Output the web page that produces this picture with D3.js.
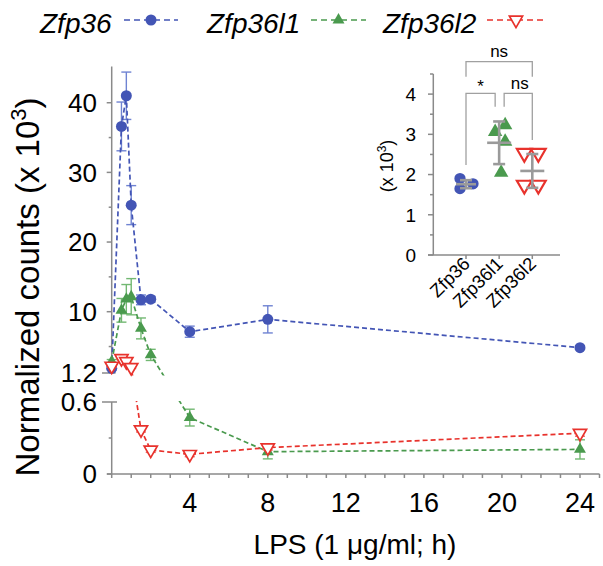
<!DOCTYPE html>
<html><head><meta charset="utf-8">
<script src="https://cdn.jsdelivr.net/npm/d3@7"></script>
<style>body{margin:0;background:#fff} text{font-family:"Liberation Sans",Arial,sans-serif}</style>
</head><body><svg id="c" width="603" height="566"></svg>
<script>
// ---- data ----
const times = [0, 0.5, 0.75, 1, 1.5, 2, 4, 8, 24];
const zfp36 = [1.88, 36.6, 41.0, 25.3, 11.7, 11.8, 7.13, 8.9, 4.84];
const zfp36Err = [0.25, 3.5, 3.4, 2.8, 0.7, 0.4, 0.8, 1.95, 0.2];
const zfp36l1 = [2.83, 10.2, 11.8, 12.15, 7.6, 3.8, 0.47, 0.186, 0.205];
const zfp36l1Err = [0.3, 1.7, 2.1, 2.6, 1.5, 0.8, 0.07, 0.06, 0.08];
const zfp36l2 = [2.2, 3.3, 2.85, 2.0, 0.37, 0.2, 0.164, 0.22, 0.34];
const zfp36l2Err = [0.15, 0.15, 0.15, 0.15, 0.02, 0.02, 0.02, 0.02, 0.025];
const upperTicks = [10, 20, 30, 40];
const upperMinor = [5, 15, 25, 35];
const lowerTicks = [0, 0.6];
const lowerMinor = [0.3];
const xTicks = [4, 8, 12, 16, 20, 24];
const seriesNames = ["Zfp36", "Zfp36l1", "Zfp36l2"];
const insetCats = ["Zfp36", "Zfp36l1", "Zfp36l2"];
const insetZfp36 = [1.9, 1.65, 1.77];
const insetZfp36l1 = [3.06, 3.23, 2.82, 2.05];
const insetZfp36l2 = [2.53, 2.53, 1.74, 1.74];
const insetMean = [1.76, 2.79, 2.09];
const insetSD = [0.1, 0.53, 0.42];
const insetTicks = [0, 1, 2, 3, 4];
const insetMinor = [0.5, 1.5, 2.5, 3.5, 4.5];

// ---- layout (not data) ----
const insetJitter = [[-6, -6, 7], [-4, 6, 6, 2], [-8, 6, -8, 6]];
const colors = ["#4355b5", "#4a9a4e", "#e8322c"];
const errColors = ["#6f83d2", "#72b872", "#ee6a64"];
const axisCol = "#8a8a8a";

const svg = d3.select("#c");
const x = d3.scaleLinear().domain([0, 25]).range([111.7, 599.5]);
const yU = d3.scaleLinear().domain([1.2, 45]).range([373, 67.9]);
const yL = d3.scaleLinear().domain([0, 0.6]).range([474, 402]);
const yPos = v => v >= 1.2 ? yU(v) : yL(v);

// clip
const defs = svg.append("defs");
const cp = defs.append("clipPath").attr("id", "brk");
cp.append("rect").attr("x", 0).attr("y", 0).attr("width", 603).attr("height", 375.5);
cp.append("rect").attr("x", 0).attr("y", 401).attr("width", 603).attr("height", 200);

// ---- axes ----
const ax = svg.append("g").attr("stroke", axisCol).attr("stroke-width", 1.5).attr("fill", "none");
ax.append("line").attr("x1", x(0)).attr("x2", x(0)).attr("y1", yU(45.2)).attr("y2", yU(1.2));
ax.append("line").attr("x1", x(0)).attr("x2", x(0)).attr("y1", yL(0.6)).attr("y2", yL(0));
upperTicks.forEach(t => ax.append("line").attr("x1", x(0) - 5).attr("x2", x(0)).attr("y1", yU(t)).attr("y2", yU(t)));
upperMinor.forEach(t => ax.append("line").attr("x1", x(0) - 3).attr("x2", x(0)).attr("y1", yU(t)).attr("y2", yU(t)));
ax.append("line").attr("x1", 102).attr("x2", 115.5).attr("y1", yU(1.2)).attr("y2", yU(1.2));
ax.append("line").attr("x1", 102).attr("x2", 117).attr("y1", yL(0.6)).attr("y2", yL(0.6));
ax.append("line").attr("x1", x(0) - 5).attr("x2", x(0)).attr("y1", yL(0)).attr("y2", yL(0));
lowerMinor.forEach(t => ax.append("line").attr("x1", x(0) - 3).attr("x2", x(0)).attr("y1", yL(t)).attr("y2", yL(t)));
// x axis
ax.append("line").attr("x1", 107).attr("x2", x(25)).attr("y1", yL(0)).attr("y2", yL(0));
d3.range(0, 26).forEach(t => ax.append("line").attr("x1", x(t)).attr("x2", x(t)).attr("y1", yL(0)).attr("y2", yL(0) + 4));

const lab = svg.append("g").attr("fill", "#000").attr("font-size", 26).attr("text-anchor", "end");
upperTicks.forEach(t => lab.append("text").attr("x", 97).attr("y", yU(t)).attr("dy", "0.36em").text(t));
lab.append("text").attr("x", 97).attr("y", yU(1.2)).attr("dy", "0.36em").text("1.2");
lowerTicks.forEach(t => lab.append("text").attr("x", 97).attr("y", yL(t)).attr("dy", "0.36em").text(t));
const xl = svg.append("g").attr("font-size", 27).attr("text-anchor", "middle");
xTicks.forEach(t => xl.append("text").attr("x", x(t)).attr("y", 512).text(t));
svg.append("text").attr("x", 355).attr("y", 554).attr("font-size", 28).attr("text-anchor", "middle").text("LPS (1 \u03bcg/ml; h)");
const yt = svg.append("text").attr("transform", "translate(39,287) rotate(-90)").attr("font-size", 33).attr("text-anchor", "middle");
yt.append("tspan").text("Normalized counts (x 10");
yt.append("tspan").attr("font-size", 22).attr("dy", -13).text("3");
yt.append("tspan").attr("dy", 13).text(")");

// ---- series ----
const allSeries = [
  {v: zfp36, e: zfp36Err},
  {v: zfp36l1, e: zfp36l1Err},
  {v: zfp36l2, e: zfp36l2Err}
];
const line = d3.line().x(d => x(d.t)).y(d => yPos(d.v));
const circ = d3.symbol().type(d3.symbolCircle).size(95);
const tri = d3.symbol().type(d3.symbolTriangle).size(62);
const triDown = d3.symbol().type(d3.symbolTriangle).size(75);

allSeries.forEach((s, i) => {
  const pts = times.map((t, j) => ({t, v: s.v[j], e: s.e[j]}));
  const g = svg.append("g");
  pts.forEach(p => {
    const y1 = yPos(p.v + p.e), y2 = yPos(Math.max(p.v - p.e, 0));
    const eg = g.append("g").attr("stroke", errColors[i]).attr("stroke-width", 1.4);
    eg.append("line").attr("x1", x(p.t)).attr("x2", x(p.t)).attr("y1", y1).attr("y2", y2);
    eg.append("line").attr("x1", x(p.t) - 5).attr("x2", x(p.t) + 5).attr("y1", y1).attr("y2", y1);
    eg.append("line").attr("x1", x(p.t) - 5).attr("x2", x(p.t) + 5).attr("y1", y2).attr("y2", y2);
  });
  g.append("path").attr("d", line(pts)).attr("fill", "none").attr("stroke", colors[i])
    .attr("stroke-width", 1.7).attr("stroke-dasharray", "5,3").attr("clip-path", "url(#brk)");
  pts.forEach(p => {
    const tr = `translate(${x(p.t)},${yPos(p.v)})`;
    if (i === 0) g.append("path").attr("d", circ()).attr("transform", tr).attr("fill", colors[0]);
    else if (i === 1) g.append("path").attr("d", tri()).attr("transform", tr).attr("fill", colors[1]);
    else g.append("path").attr("d", triDown()).attr("transform", tr + " rotate(180)").attr("fill", "#fff").attr("stroke", colors[2]).attr("stroke-width", 1.7);
  });
});

// ---- legend ----
const legX = [40, 207, 383];
const legLine = [[124, 178], [311, 366], [487, 545]];
const leg = svg.append("g");
seriesNames.forEach((n, i) => {
  leg.append("text").attr("x", legX[i]).attr("y", 33).attr("font-size", 28).attr("font-style", "italic").text(n);
  leg.append("line").attr("x1", legLine[i][0]).attr("x2", legLine[i][1]).attr("y1", 20).attr("y2", 20)
    .attr("stroke", colors[i]).attr("stroke-width", 1.7).attr("stroke-dasharray", "6,4");
  const cx = (legLine[i][0] + legLine[i][1]) / 2;
  if (i === 0) leg.append("path").attr("d", circ()).attr("transform", `translate(${cx},20)`).attr("fill", colors[0]);
  else if (i === 1) leg.append("path").attr("d", tri()).attr("transform", `translate(${cx},20)`).attr("fill", colors[1]);
  else leg.append("path").attr("d", triDown()).attr("transform", `translate(${cx},20) rotate(180)`).attr("fill", "#fff").attr("stroke", colors[2]).attr("stroke-width", 1.7);
});

// ---- inset ----
const ix = d3.scalePoint().domain(insetCats).range([466, 532.3]);
const iy = d3.scaleLinear().domain([0, 4.5]).range([255, 74]);
const ia = svg.append("g").attr("stroke", axisCol).attr("stroke-width", 1.5);
ia.append("line").attr("x1", 433.3).attr("x2", 433.3).attr("y1", iy(4.5)).attr("y2", iy(0));
ia.append("line").attr("x1", 428).attr("x2", 560).attr("y1", iy(0)).attr("y2", iy(0));
insetTicks.forEach(t => ia.append("line").attr("x1", 428).attr("x2", 433.3).attr("y1", iy(t)).attr("y2", iy(t)));
insetMinor.forEach(t => ia.append("line").attr("x1", 430).attr("x2", 433.3).attr("y1", iy(t)).attr("y2", iy(t)));
insetCats.forEach(c => ia.append("line").attr("x1", ix(c)).attr("x2", ix(c)).attr("y1", iy(0)).attr("y2", iy(0) + 4));
const il = svg.append("g").attr("font-size", 19).attr("text-anchor", "end");
insetTicks.forEach(t => il.append("text").attr("x", 416).attr("y", iy(t)).attr("dy", "0.36em").text(t));
insetCats.forEach(c => svg.append("text").attr("font-size", 18.5).attr("text-anchor", "end")
  .attr("transform", `translate(${ix(c) + 5},${iy(0) + 10}) rotate(-45)`).text(c));
const iyt = svg.append("text").attr("transform", "translate(393,166) rotate(-90)").attr("font-size", 18).attr("text-anchor", "middle");
iyt.append("tspan").text("(x 10");
iyt.append("tspan").attr("font-size", 12).attr("dy", -7).text("3");
iyt.append("tspan").attr("dy", 7).text(")");

const insetVals = [insetZfp36, insetZfp36l1, insetZfp36l2];
const icirc = d3.symbol().type(d3.symbolCircle).size(100);
const itri = d3.symbol().type(d3.symbolTriangle).size(90);
const itriD = d3.symbol().type(d3.symbolTriangle).size(95);
insetVals.forEach((vals, i) => {
  const cx = ix(insetCats[i]);
  vals.forEach((v, j) => {
    const tr = `translate(${cx + insetJitter[i][j]},${iy(v)})`;
    if (i === 0) svg.append("path").attr("d", icirc()).attr("transform", tr).attr("fill", colors[0]);
    else if (i === 1) svg.append("path").attr("d", itri()).attr("transform", tr).attr("fill", colors[1]);
    else svg.append("path").attr("d", itriD()).attr("transform", tr + " rotate(180)").attr("fill", "none").attr("stroke", colors[2]).attr("stroke-width", 2.2);
  });
  const mg = svg.append("g").attr("stroke", "#9a9a9a").attr("stroke-width", 2.6);
  const hw = i === 0 ? 10 : 12;
  mg.append("line").attr("x1", cx - hw).attr("x2", cx + hw).attr("y1", iy(insetMean[i])).attr("y2", iy(insetMean[i]));
  mg.append("line").attr("x1", cx).attr("x2", cx).attr("y1", iy(insetMean[i] + insetSD[i])).attr("y2", iy(insetMean[i] - insetSD[i]));
  mg.append("line").attr("x1", cx - 6).attr("x2", cx + 6).attr("y1", iy(insetMean[i] + insetSD[i])).attr("y2", iy(insetMean[i] + insetSD[i]));
  mg.append("line").attr("x1", cx - 6).attr("x2", cx + 6).attr("y1", iy(insetMean[i] - insetSD[i])).attr("y2", iy(insetMean[i] - insetSD[i]));
});

// significance brackets
const br = svg.append("g").attr("stroke", "#a0a0a0").attr("stroke-width", 1.3).attr("fill", "none");
const c0 = ix(insetCats[0]), c1 = ix(insetCats[1]), c2 = ix(insetCats[2]);
br.append("path").attr("d", `M${c0},76.7V61.7H${c2}V76.7`);
br.append("path").attr("d", `M${c0},165V93.3H${c1 - 4}V106.7`);
br.append("path").attr("d", `M${c1 + 5},106.7V93.3H${c2}V140`);
const st = svg.append("g").attr("font-size", 17).attr("text-anchor", "middle");
st.append("text").attr("x", (c0 + c2) / 2).attr("y", 57).text("ns");
st.append("text").attr("x", (c0 + c1) / 2 - 2).attr("y", 92).text("*");
st.append("text").attr("x", (c1 + c2) / 2 + 4).attr("y", 89).text("ns");
</script></body></html>
